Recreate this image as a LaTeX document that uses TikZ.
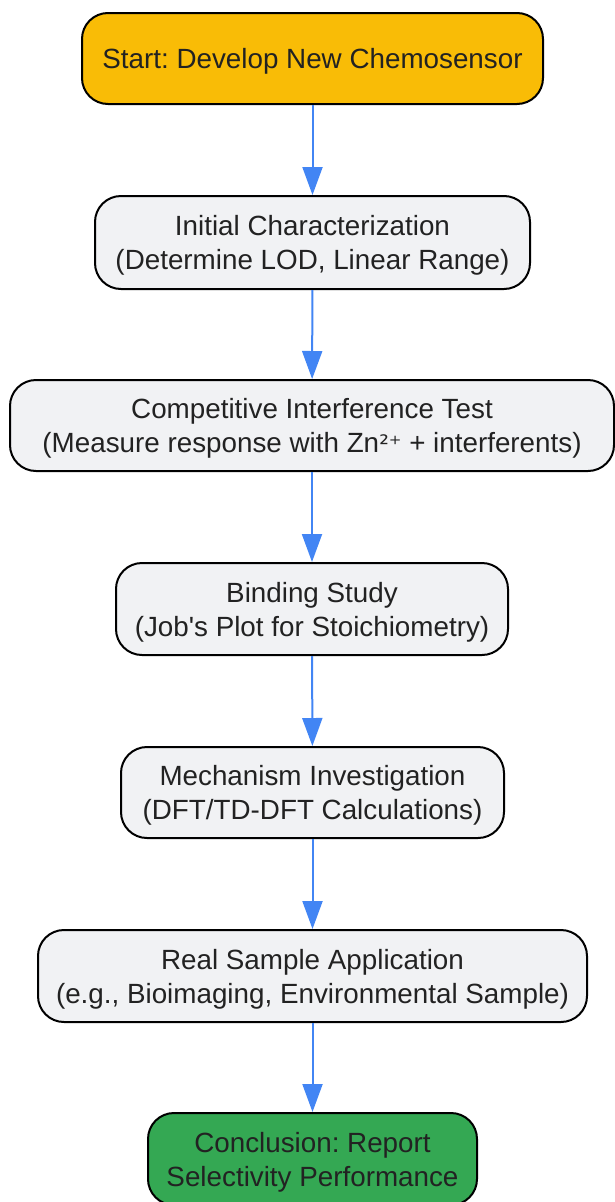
\documentclass[tikz,border=0pt]{standalone}
\usepackage{fontspec}
\setmainfont{Liberation Sans}
\newfontfamily\dvfont{DejaVu Sans}
\usetikzlibrary{arrows.meta}
\frenchspacing
\definecolor{startc}{HTML}{F9BC06}
\definecolor{stepc}{HTML}{F1F2F4}
\definecolor{endc}{HTML}{34A853}
\definecolor{arrc}{HTML}{4285F4}
\definecolor{txt}{HTML}{222222}
\tikzset{
  box/.style={draw=black, line width=2pt, rounded corners=26pt, fill=stepc, inner sep=0pt},
  boxtext/.style={align=center, text=txt, font=\frenchspacing\fontsize{27.8}{34}\selectfont, inner sep=0pt, yshift=-3pt},
  flow/.style={draw=arrc, line width=2pt, -{Triangle[length=28pt,width=20pt]}}
}
\begin{document}
\begin{tikzpicture}[x=1pt,y=-1pt]
\useasboundingbox (0,0) rectangle (615,1202);
\node[box, fill=startc, minimum width=461pt, minimum height=91pt,
  label={[boxtext]center:Start: Develop New Chemosensor}] (n1) at (312.5,58.5) {};
\node[box, minimum width=435pt, minimum height=93pt,
  label={[boxtext]center:Initial Characterization\\(Determine LOD, Linear Range)}] (n2) at (312.5,242.5) {};
\node[box, minimum width=604pt, minimum height=91pt,
  label={[boxtext]center:Competitive Interference Test\\(Measure response with Zn{\dvfont\fontsize{24}{34}\selectfont ²⁺} + interferents)}] (n3) at (312,425.5) {};
\node[box, minimum width=392pt, minimum height=92pt,
  label={[boxtext]center:Binding Study\\(Job\textquotesingle s Plot for Stoichiometry)}] (n4) at (312,609) {};
\node[box, minimum width=383pt, minimum height=91pt,
  label={[boxtext]center:Mechanism Investigation\\(DFT/TD-DFT Calculations)}] (n5) at (312.5,792.5) {};
\node[box, minimum width=549pt, minimum height=92pt,
  label={[boxtext]center:Real Sample Application\\(e.g., Bioimaging, Environmental Sample)}] (n6) at (312.5,976) {};
\node[box, fill=endc, minimum width=329pt, minimum height=92pt,
  label={[boxtext]center:Conclusion: Report\\Selectivity Performance}] (n7) at (312.5,1159) {};
\draw[flow] (n1) -- (n2);
\draw[flow] (n2) -- (n3);
\draw[flow] (n3) -- (n4);
\draw[flow] (n4) -- (n5);
\draw[flow] (n5) -- (n6);
\draw[flow] (n6) -- (n7);
\end{tikzpicture}
\end{document}
